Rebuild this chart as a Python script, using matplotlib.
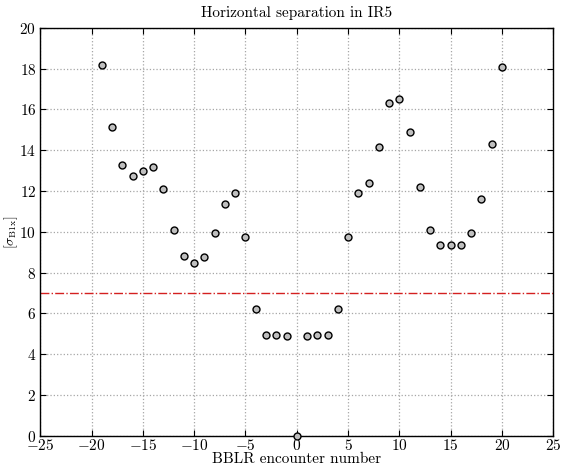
import numpy as np
import matplotlib
matplotlib.use("Agg")
import matplotlib.pyplot as plt

plt.rcParams["font.family"] = "serif"
plt.rcParams["font.serif"] = ["cmr10"]
plt.rcParams["mathtext.fontset"] = "cm"
plt.rcParams["axes.formatter.use_mathtext"] = True
plt.rcParams["axes.unicode_minus"] = True

encounter = np.arange(-19, 21)
sep = [18.2, 15.15, 13.3, 12.75, 13.0, 13.2, 12.1, 10.1, 8.8, 8.45,
       8.75, 9.95, 11.35, 11.9, 9.75, 6.2, 4.95, 4.95, 4.9, 0.0,
       4.9, 4.95, 4.95, 6.2, 9.75, 11.9, 12.4, 14.15, 16.3, 16.5,
       14.9, 12.2, 10.1, 9.35, 9.35, 9.35, 9.95, 11.6, 14.3, 18.1]
sep_min = 7.0

fig, ax = plt.subplots(figsize=(5.61, 4.65), dpi=100)
fig.subplots_adjust(left=0.072, right=0.986, top=0.94, bottom=0.063)

ax.plot(encounter, sep, "o", color="0.75", markeredgecolor="k",
        markeredgewidth=1.0, markersize=5, clip_on=False, zorder=5)
ax.axhline(sep_min, color="#d42020", linestyle="-.", linewidth=1.0)

ax.set_xlim(-25, 25)
ax.set_ylim(0, 20)
ax.set_xticks(np.arange(-25, 26, 5))
ax.set_yticks(np.arange(0, 21, 2))
ax.grid(True, linestyle=":", color="0.65", linewidth=0.9)
ax.tick_params(direction="in", top=True, right=True, length=4, labelsize=11, pad=2)
ax.tick_params(axis="y", pad=3)

ax.set_title("Horizontal separation in IR5", fontsize=11, pad=8)
ax.set_xlabel("BBLR encounter number", fontsize=11, labelpad=-1)
ax.set_ylabel(r"$[\sigma_{\rm B1x}]$", fontsize=10)
ax.yaxis.set_label_coords(-0.039, 0.5)

for s in ax.spines.values():
    s.set_linewidth(1.0)

fig.savefig("out.png", dpi=100)
